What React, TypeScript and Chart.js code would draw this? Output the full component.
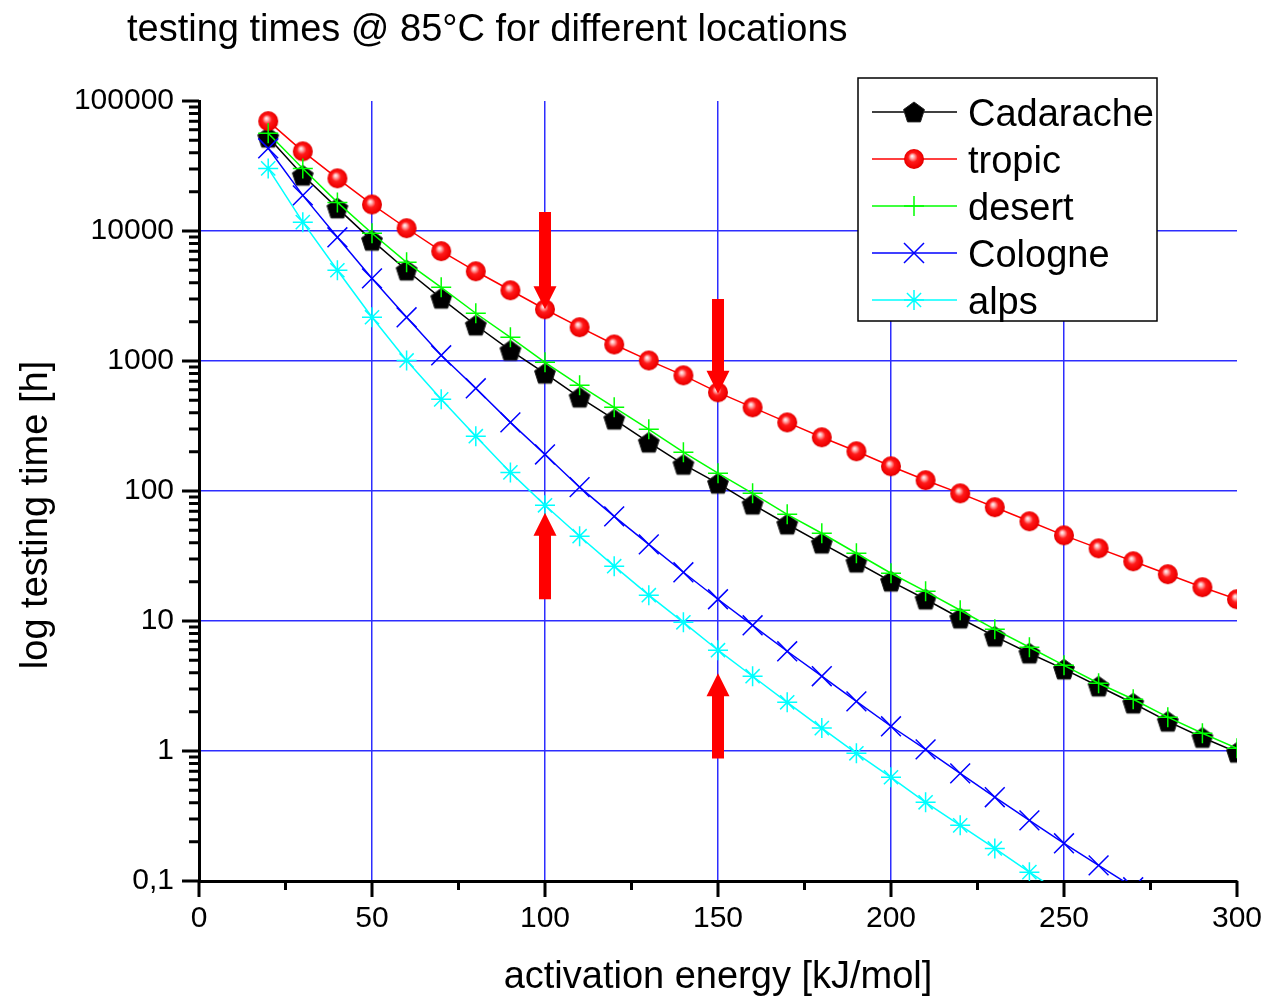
import React, { useEffect, useRef } from 'react';
import { Chart, registerables } from 'chart.js';

Chart.register(...registerables);

// ---------- data ----------
const energies = [20, 30, 40, 50, 60, 70, 80, 90, 100, 110, 120, 130, 140, 150, 160, 170, 180, 190, 200, 210, 220, 230, 240, 250, 260, 270, 280, 290, 300];

const cadarache = [52600, 26800, 15000, 8470, 4990, 3035, 1884, 1208, 804, 526, 356, 237, 160, 114.5, 79, 55.5, 39.6, 28.3, 20.2, 14.7, 10.5, 7.62, 5.65, 4.26, 3.15, 2.33, 1.69, 1.27, 0.977];
const tropic = [70000, 41000, 25400, 16000, 10500, 7000, 4900, 3500, 2500, 1820, 1340, 1010, 776, 574, 440, 337, 259, 202, 155, 121, 95.9, 75, 58.5, 45.6, 36.2, 28.8, 22.9, 18.2, 14.7];
const desert = [56500, 30300, 16600, 9610, 5740, 3690, 2330, 1520, 977, 650, 440, 298, 199, 137, 95.9, 66.2, 47.3, 33.2, 23.3, 16.9, 12.1, 8.63, 6.28, 4.56, 3.32, 2.5, 1.82, 1.37, 1.05];
const cologne = [43300, 18800, 8950, 4320, 2170, 1107, 617, 337, 191, 107, 63.8, 38.9, 23.7, 14.7, 9.27, 5.85, 3.76, 2.41, 1.55, 1.03, 0.673, 0.441, 0.293, 0.195, 0.132, 0.0895];
const alps = [30300, 11700, 4990, 2170, 1010, 507, 264, 139, 77.6, 44.9, 26.4, 15.8, 9.77, 5.96, 3.76, 2.37, 1.5, 0.96, 0.628, 0.403, 0.268, 0.178, 0.117, 0.0776];

const seriesNames = ['Cadarache', 'tropic', 'desert', 'Cologne', 'alps'];
const seriesColors = ['#000000', '#ff0000', '#00ff00', '#0000ff', '#00ffff'];

const xTicks = [0, 50, 100, 150, 200, 250, 300];
const xMinorTicks = [25, 75, 125, 175, 225, 275];
const yTicks = [100000, 10000, 1000, 100, 10, 1, 0.1];
const yTickLabels = ['100000', '10000', '1000', '100', '10', '1', '0,1'];

// red arrows: x position, tail value, tip value
const arrowX = [100, 150, 100, 150];
const arrowTail = [14000, 3000, 14.7, 0.875];
const arrowTip = [2500, 561, 68, 3.96];

const titleText = 'testing times @ 85°C for different locations';
const xTitle = 'activation energy [kJ/mol]';
const yTitle = 'log testing time [h]';

const FONT = '"Liberation Sans", Arial, sans-serif';

function makePentagon(): HTMLCanvasElement {
  const c = document.createElement('canvas');
  c.width = 26; c.height = 26;
  const g = c.getContext('2d')!;
  const R = 11;
  g.beginPath();
  for (let i = 0; i < 5; i++) {
    const a = -Math.PI / 2 + i * (2 * Math.PI / 5);
    const px = 13 + R * Math.cos(a);
    const py = 14 + R * Math.sin(a);
    if (i === 0) g.moveTo(px, py); else g.lineTo(px, py);
  }
  g.closePath();
  g.fillStyle = '#000000';
  g.fill();
  g.strokeStyle = '#222';
  g.lineWidth = 1;
  g.stroke();
  return c;
}

function makeSphere(): HTMLCanvasElement {
  const c = document.createElement('canvas');
  c.width = 24; c.height = 24;
  const g = c.getContext('2d')!;
  const grad = g.createRadialGradient(10, 9, 0, 12, 12, 10.5);
  grad.addColorStop(0, '#ffffff');
  grad.addColorStop(0.18, '#ffb4b4');
  grad.addColorStop(0.45, '#ff1a1a');
  grad.addColorStop(0.85, '#f00000');
  grad.addColorStop(1, '#c80000');
  g.beginPath();
  g.arc(12, 12, 10, 0, Math.PI * 2);
  g.fillStyle = grad;
  g.fill();
  return c;
}

function drawMarker(ctx: CanvasRenderingContext2D, idx: number, x: number, y: number, imgs: HTMLCanvasElement[]) {
  ctx.save();
  ctx.strokeStyle = seriesColors[idx];
  ctx.lineWidth = 1.5;
  if (idx === 0 || idx === 1) {
    const im = imgs[idx];
    ctx.drawImage(im, x - im.width / 2, y - im.height / 2);
  } else if (idx === 2) {
    ctx.beginPath();
    ctx.moveTo(x - 10, y); ctx.lineTo(x + 10, y);
    ctx.moveTo(x, y - 10); ctx.lineTo(x, y + 10);
    ctx.stroke();
  } else if (idx === 3) {
    const d = 10;
    ctx.beginPath();
    ctx.moveTo(x - d, y - d); ctx.lineTo(x + d, y + d);
    ctx.moveTo(x - d, y + d); ctx.lineTo(x + d, y - d);
    ctx.stroke();
  } else {
    const d = 10, e = 7.07;
    ctx.beginPath();
    ctx.moveTo(x - d, y); ctx.lineTo(x + d, y);
    ctx.moveTo(x, y - d); ctx.lineTo(x, y + d);
    ctx.moveTo(x - e, y - e); ctx.lineTo(x + e, y + e);
    ctx.moveTo(x - e, y + e); ctx.lineTo(x + e, y - e);
    ctx.stroke();
  }
  ctx.restore();
}

export default function App() {
  const ref = useRef<HTMLCanvasElement | null>(null);

  useEffect(() => {
    if (!ref.current) return;
    const pentagon = makePentagon();
    const sphere = makeSphere();
    const imgs = [pentagon, sphere];

    const toPts = (arr: number[]) => arr.map((v, i) => ({ x: energies[i], y: v }));
    const allSeries = [cadarache, tropic, desert, cologne, alps];
    const pointStyles: any[] = [pentagon, sphere, 'cross', 'crossRot', 'star'];
    const pointRadii = [11, 10, 10, 14, 10];

    const datasets = allSeries.map((arr, i) => ({
      label: seriesNames[i],
      data: toPts(arr),
      borderColor: seriesColors[i],
      backgroundColor: seriesColors[i],
      borderWidth: 1.5,
      pointStyle: pointStyles[i],
      pointRadius: pointRadii[i],
      pointBorderColor: seriesColors[i],
      pointBackgroundColor: seriesColors[i],
      pointBorderWidth: 1.5,
      tension: 0,
      order: 5 - i,
    }));

    const decor = {
      id: 'decor',
      afterDraw(chart: any) {
        const ctx: CanvasRenderingContext2D = chart.ctx;
        const xs = chart.scales.x;
        const ys = chart.scales.y;
        const area = chart.chartArea;
        ctx.save();

        // tick marks
        ctx.strokeStyle = '#000';
        ctx.lineWidth = 3;
        ctx.beginPath();
        xTicks.forEach((v) => {
          const px = xs.getPixelForValue(v);
          ctx.moveTo(px, area.bottom); ctx.lineTo(px, area.bottom + 16);
        });
        xMinorTicks.forEach((v) => {
          const px = xs.getPixelForValue(v);
          ctx.moveTo(px, area.bottom); ctx.lineTo(px, area.bottom + 9);
        });
        yTicks.forEach((v) => {
          const py = ys.getPixelForValue(v);
          ctx.moveTo(area.left - 17, py); ctx.lineTo(area.left, py);
          if (v < 100000) {
            for (let m = 2; m <= 9; m++) {
              const my = ys.getPixelForValue(v * m);
              ctx.moveTo(area.left - 10, my); ctx.lineTo(area.left, my);
            }
          }
        });
        ctx.stroke();

        // arrows
        ctx.fillStyle = '#ff0000';
        for (let i = 0; i < arrowX.length; i++) {
          const x = xs.getPixelForValue(arrowX[i]);
          const yb = ys.getPixelForValue(arrowTail[i]);
          const yt = ys.getPixelForValue(arrowTip[i]);
          const dir = yt > yb ? 1 : -1;
          const hl = 23, sw = 6, hw = 11.5;
          const yh = yt - dir * hl;
          ctx.beginPath();
          ctx.moveTo(x - sw, yb);
          ctx.lineTo(x + sw, yb);
          ctx.lineTo(x + sw, yh);
          ctx.lineTo(x + hw, yh);
          ctx.lineTo(x, yt);
          ctx.lineTo(x - hw, yh);
          ctx.lineTo(x - sw, yh);
          ctx.closePath();
          ctx.fill();
        }

        // legend box
        const bx = 858, by = 78, bw = 299, bh = 243;
        ctx.fillStyle = '#ffffff';
        ctx.fillRect(bx, by, bw, bh);
        ctx.strokeStyle = '#000';
        ctx.lineWidth = 1.5;
        ctx.strokeRect(bx, by, bw, bh);
        ctx.font = `38px ${FONT}`;
        ctx.textAlign = 'left';
        ctx.textBaseline = 'alphabetic';
        for (let i = 0; i < seriesNames.length; i++) {
          const ry = 112 + i * 47;
          ctx.strokeStyle = seriesColors[i];
          ctx.lineWidth = 1.5;
          ctx.beginPath();
          ctx.moveTo(872, ry); ctx.lineTo(957, ry);
          ctx.stroke();
          drawMarker(ctx, i, 914, ry, imgs);
          ctx.fillStyle = '#000';
          ctx.fillText(seriesNames[i], 968, ry + 14);
        }

        // titles
        ctx.fillStyle = '#000';
        ctx.font = `38px ${FONT}`;
        ctx.textAlign = 'left';
        ctx.fillText(titleText, 127, 41);
        ctx.textAlign = 'center';
        ctx.fillText(xTitle, (area.left + area.right) / 2, 988);
        ctx.save();
        ctx.translate(47, 515);
        ctx.rotate(-Math.PI / 2);
        ctx.fillText(yTitle, 0, 0);
        ctx.restore();

        ctx.restore();
      },
    };

    const gridColor = 'rgb(45,45,255)';

    const chart = new Chart(ref.current, {
      type: 'line',
      data: { datasets: datasets as any },
      options: {
        animation: false,
        responsive: false,
        maintainAspectRatio: false,
        layout: { padding: { top: 101, right: 31, left: 0, bottom: 0 } },
        font: { family: FONT } as any,
        plugins: {
          legend: { display: false },
          tooltip: { enabled: false },
          title: { display: false },
        },
        scales: {
          x: {
            type: 'linear',
            min: 0,
            max: 300,
            afterBuildTicks: (s: any) => { s.ticks = xTicks.map((v) => ({ value: v })); },
            afterFit: (s: any) => { s.height = 119; s.paddingRight = 0; s.paddingLeft = 0; },
            grid: {
              drawTicks: false,
              lineWidth: 1.5,
              color: (c: any) => (c.tick && (c.tick.value === 0 || c.tick.value === 300) ? 'rgba(0,0,0,0)' : gridColor),
            },
            border: { display: true, color: '#000', width: 3 },
            ticks: {
              autoSkip: false,
              maxRotation: 0,
              padding: 20,
              color: '#000',
              font: { family: FONT, size: 30 },
              callback: (v: any) => String(v),
            },
          },
          y: {
            type: 'logarithmic',
            min: 0.1,
            max: 100000,
            afterBuildTicks: (s: any) => { s.ticks = yTicks.map((v) => ({ value: v })); },
            afterFit: (s: any) => { s.width = 199; s.paddingTop = 0; s.paddingBottom = 0; },
            grid: {
              drawTicks: false,
              lineWidth: 1.5,
              color: (c: any) => (c.tick && (c.tick.value === 0.1 || c.tick.value === 100000) ? 'rgba(0,0,0,0)' : gridColor),
            },
            border: { display: true, color: '#000', width: 3 },
            ticks: {
              autoSkip: false,
              padding: 25,
              color: '#000',
              font: { family: FONT, size: 30 },
              callback: (v: any) => {
                const k = yTicks.findIndex((t) => Math.abs(t - v) / t < 1e-6);
                return k >= 0 ? yTickLabels[k] : '';
              },
            },
          },
        },
      },
      plugins: [decor],
    });

    return () => chart.destroy();
  }, []);

  return (
    <div style={{ position: 'absolute', left: 0, top: 0, width: 1268, height: 1000, background: '#fff' }}>
      <canvas ref={ref} width={1268} height={1000} style={{ display: 'block', width: 1268, height: 1000 }} />
    </div>
  );
}
